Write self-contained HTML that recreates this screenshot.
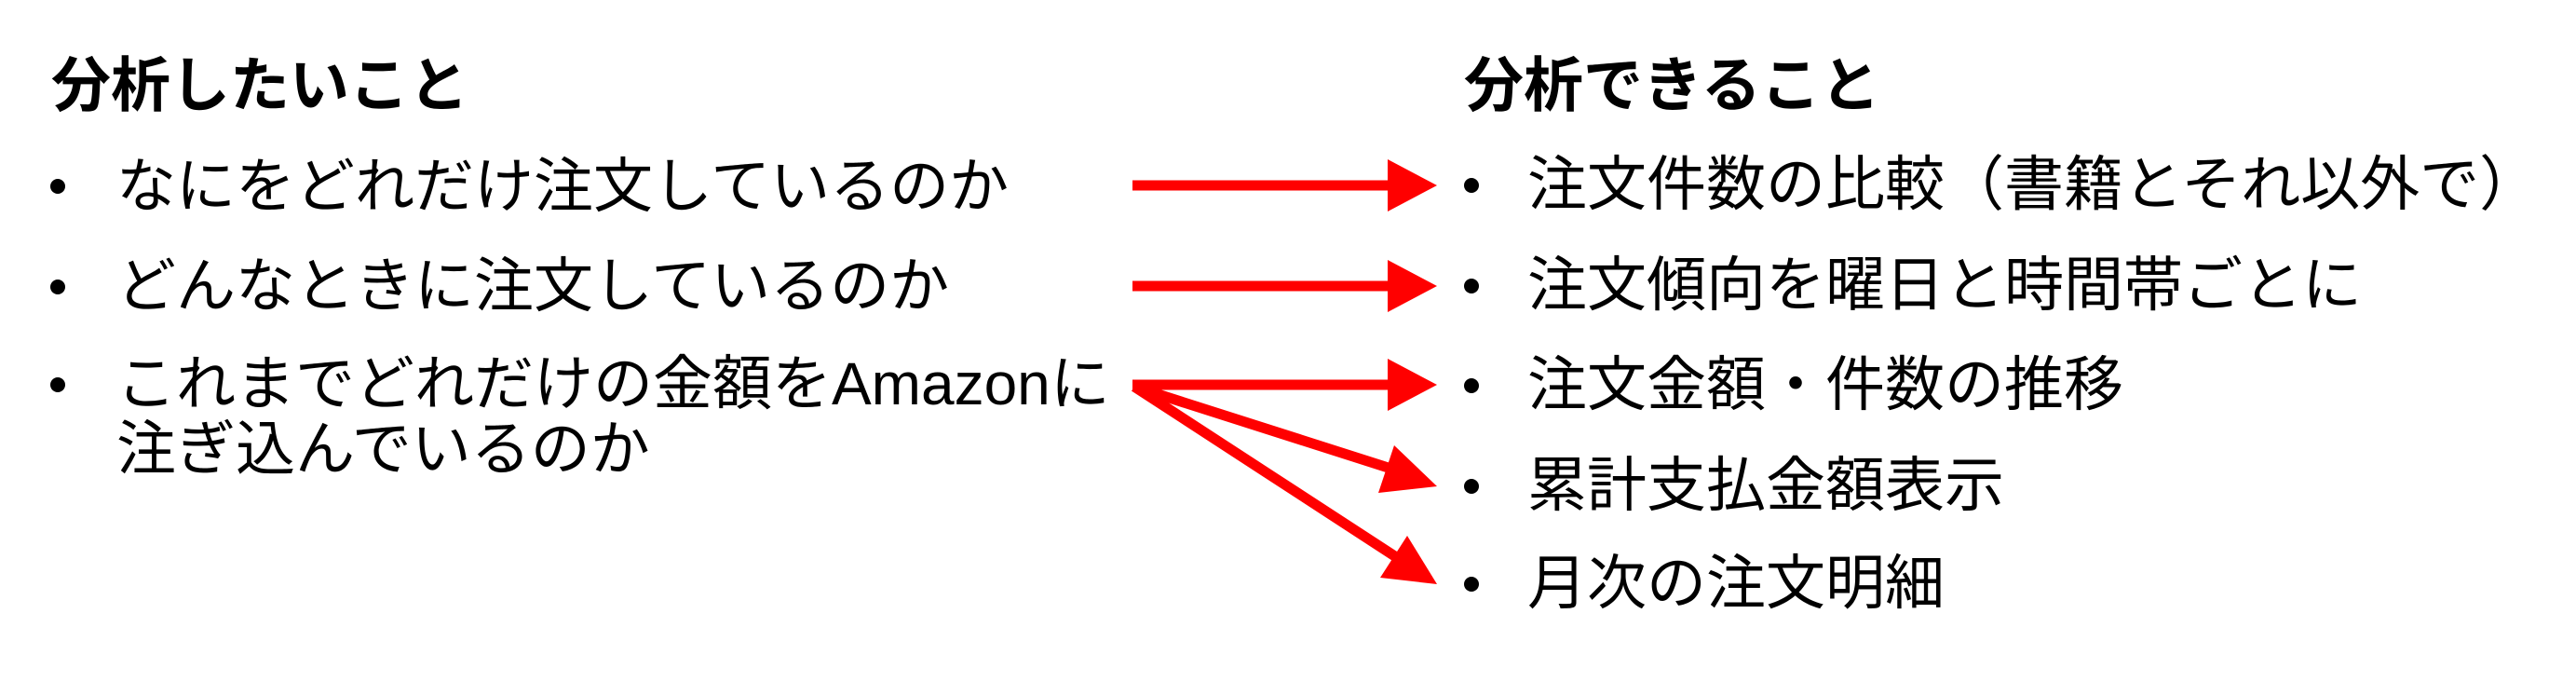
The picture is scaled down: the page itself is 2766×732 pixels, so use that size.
<!DOCTYPE html>
<html><head><meta charset="utf-8"><style>
html,body{margin:0;padding:0;background:#fff;}
body{width:2766px;height:732px;position:relative;overflow:hidden;font-family:"Liberation Sans","Noto Sans CJK JP",sans-serif;color:#000;}
.t{position:absolute;font-size:64px;line-height:70px;white-space:nowrap;}
.h{position:absolute;font-size:64px;font-weight:bold;line-height:70px;white-space:nowrap;}
.b{position:absolute;width:16px;height:16px;border-radius:50%;background:#000;}
svg{position:absolute;left:0;top:0;}
</style></head><body>
<div class="h" style="left:55px;top:57px;">分析したいこと</div>
<div class="h" style="left:1572px;top:57px;">分析できること</div>

<div class="b" style="left:54px;top:192px"></div>
<div class="t" style="left:125px;top:165px;">なにをどれだけ注文しているのか</div>
<div class="b" style="left:54px;top:300px"></div>
<div class="t" style="left:125px;top:272px;">どんなときに注文しているのか</div>
<div class="b" style="left:54px;top:405px"></div>
<div class="t" style="left:125px;top:377px;">これまでどれだけの金額をAmazonに</div>
<div class="t" style="left:125px;top:447px;">注ぎ込んでいるのか</div>

<div class="b" style="left:1572px;top:191px"></div>
<div class="t" style="left:1640px;top:163px;">注文件数の比較（書籍とそれ以外で）</div>
<div class="b" style="left:1572px;top:299px"></div>
<div class="t" style="left:1640px;top:271px;">注文傾向を曜日と時間帯ごとに</div>
<div class="b" style="left:1572px;top:406px"></div>
<div class="t" style="left:1640px;top:378px;">注文金額・件数の推移</div>
<div class="b" style="left:1572px;top:514px"></div>
<div class="t" style="left:1640px;top:486px;">累計支払金額表示</div>
<div class="b" style="left:1572px;top:619px"></div>
<div class="t" style="left:1640px;top:591px;">月次の注文明細</div>

<svg width="2766" height="732" viewBox="0 0 2766 732">
<g stroke="#ff0000" stroke-width="11" fill="none">
<line x1="1216" y1="199" x2="1495" y2="199"/>
<line x1="1216" y1="307" x2="1495" y2="307"/>
<line x1="1216" y1="413" x2="1495" y2="413"/>
<line x1="1218" y1="415" x2="1500" y2="505"/>
<line x1="1218" y1="415" x2="1510" y2="605"/>
</g>
<g fill="#ff0000">
<polygon points="1490,171 1543,199 1490,227"/>
<polygon points="1490,279 1543,307 1490,335"/>
<polygon points="1490,385 1543,413 1490,441"/>
<polygon points="1497,478 1543,522 1480,529"/>
<polygon points="1511,575 1543,627 1482,620"/>
</g>
</svg>
</body></html>
